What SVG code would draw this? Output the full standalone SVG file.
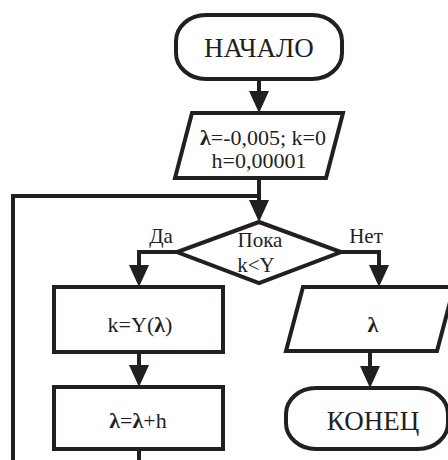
<svg xmlns="http://www.w3.org/2000/svg" width="448" height="460" viewBox="0 0 448 460">
<style>
.s{fill:#fff;stroke:#231f20;stroke-width:4;stroke-linejoin:miter}
.c{fill:none;stroke:#231f20;stroke-width:4}
.a{marker-end:url(#ah)}
text{font-family:"Liberation Serif","Times New Roman",serif;fill:#231f20;text-anchor:middle}
.t{font-size:27px}
.m{font-size:22px}
.l{font-size:21px}
.b{font-weight:bold}
</style>
<defs>
<marker id="ah" viewBox="0 0 22 20" markerWidth="22" markerHeight="20" markerUnits="userSpaceOnUse" refX="10" refY="10" orient="auto">
<path d="M0,0 L22,10 L0,20 z" fill="#231f20"/>
</marker>
</defs>
<rect width="448" height="460" fill="#fff"/>
<g id="connectors">
<path class="c a" d="M259,79 V101"/>
<path class="c a" d="M259,178 V210"/>
<path class="c" d="M13,462 V196 H259"/>
<path class="c a" d="M177,252 H139 V275"/>
<path class="c a" d="M342,252 H379 V275"/>
<path class="c a" d="M139,352 V375"/>
<path class="c a" d="M370,351 V376"/>
<path class="c" d="M139,449 V462"/>
<text class="l" x="161" y="243">Да</text>
<text class="l" x="366" y="243">Нет</text>
</g>
<g id="start">
<rect class="s" x="176" y="15" width="166" height="64" rx="30" ry="26"/>
<text class="t" x="259" y="57">НАЧАЛО</text>
</g>
<g id="init">
<polygon class="s" points="192,113 343,113 326,178 175,178"/>
<text class="m" x="263" y="145"><tspan class="b">λ</tspan>=-0,005; k=0</text>
<text class="m" x="259" y="168">h=0,00001</text>
</g>
<g id="cond">
<polygon class="s" points="259,222 341,252 259,283 177,252"/>
<text class="l" x="260" y="247">Пока</text>
<text class="l" x="256" y="272">k&lt;Y</text>
</g>
<g id="calc">
<rect class="s" x="54" y="287" width="169" height="65"/>
<text class="m" x="140" y="332">k=Y(<tspan class="b">λ</tspan>)</text>
</g>
<g id="step">
<rect class="s" x="54" y="387" width="169" height="62"/>
<text class="m" x="138" y="428"><tspan class="b">λ</tspan>=<tspan class="b">λ</tspan>+h</text>
</g>
<g id="output">
<polygon class="s" points="303,287 454,287 437,351 286,351"/>
<text class="m b" x="373" y="332">λ</text>
</g>
<g id="end">
<rect class="s" x="286" y="388" width="162" height="61" rx="30" ry="26"/>
<text class="t" x="373" y="430">КОНЕЦ</text>
</g>
</svg>
